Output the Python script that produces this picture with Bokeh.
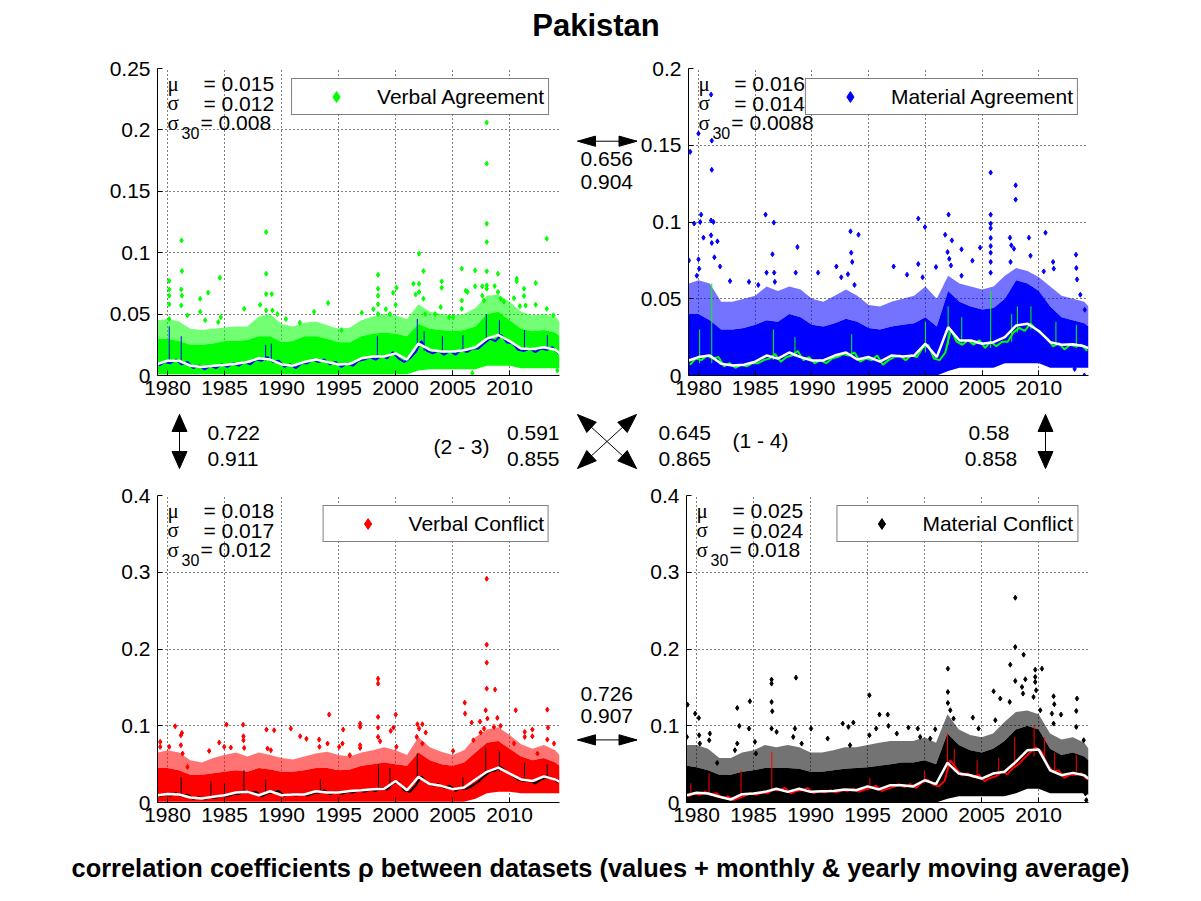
from bokeh.plotting import figure
from bokeh.layouts import column, row
from bokeh.models import Range1d, FixedTicker, CustomJSTickFormatter, Label, Legend, LegendItem
from bokeh.core.properties import value
from bokeh.embed import file_html
from bokeh.resources import INLINE

SANS = "Liberation Sans"
SERIF = "Liberation Serif"

# time axes (years)
years_y = [1979.15] + list(range(1980, 2015)) + [2014.37]
years_h = [1979.25 + 0.5 * i for i in range(71)]
year_ticks = [1980, 1985, 1990, 1995, 2000, 2005, 2010]

# ---------------- Verbal Agreement (top left) ----------------
va_yearly = [0.0095, 0.012, 0.012, 0.008, 0.007, 0.008, 0.0085, 0.0095, 0.011, 0.014,
             0.013, 0.009, 0.008, 0.011, 0.013, 0.011, 0.009, 0.0095, 0.014, 0.0155,
             0.0155, 0.018, 0.013, 0.026, 0.021, 0.0195, 0.0195, 0.0205, 0.023, 0.030,
             0.033, 0.028, 0.022, 0.0215, 0.023, 0.021, 0.018]
va_monthly = [0.008, 0.011, 0.010, 0.013, 0.009, 0.011, 0.006, 0.008, 0.005, 0.008,
              0.006, 0.009, 0.007, 0.010, 0.008, 0.011, 0.009, 0.013, 0.012, 0.015,
              0.011, 0.012, 0.007, 0.009, 0.006, 0.010, 0.010, 0.013, 0.011, 0.013,
              0.009, 0.011, 0.007, 0.010, 0.008, 0.012, 0.013, 0.015, 0.013, 0.016,
              0.014, 0.019, 0.014, 0.011, 0.014, 0.019, 0.028, 0.020, 0.018, 0.020,
              0.017, 0.020, 0.017, 0.021, 0.019, 0.022, 0.022, 0.026, 0.030, 0.028,
              0.033, 0.027, 0.026, 0.021, 0.020, 0.022, 0.019, 0.022, 0.021, 0.023,
              0.018]
va_band_lo = [0.001] * 23 + [0.004, 0.005, 0.005, 0.005, 0.005, 0.005, 0.008, 0.008,
                             0.008, 0.006, 0.006, 0.006, 0.006, 0.006]
va_band_hi = [0.030, 0.030, 0.028, 0.025, 0.025, 0.026, 0.028, 0.028, 0.029, 0.032,
              0.032, 0.027, 0.028, 0.032, 0.032, 0.030, 0.027, 0.027, 0.032, 0.034,
              0.035, 0.034, 0.032, 0.042, 0.038, 0.037, 0.036, 0.037, 0.040, 0.050,
              0.052, 0.045, 0.038, 0.036, 0.037, 0.035, 0.032]
va_fringe = [0.045, 0.046, 0.044, 0.038, 0.037, 0.038, 0.039, 0.040, 0.040, 0.048,
             0.050, 0.042, 0.040, 0.043, 0.044, 0.041, 0.038, 0.039, 0.045, 0.048,
             0.050, 0.049, 0.046, 0.058, 0.052, 0.050, 0.049, 0.050, 0.055, 0.065,
             0.066, 0.060, 0.052, 0.049, 0.050, 0.048, 0.044]
va_spikes = [(1980.15, 0.010, 0.040), (1981.2, 0.010, 0.032), (1988.6, 0.012, 0.025),
             (1989.1, 0.012, 0.026), (1998.4, 0.014, 0.032), (2001.9, 0.020, 0.046),
             (2002.5, 0.020, 0.036), (2004.1, 0.018, 0.032), (2005.9, 0.020, 0.033),
             (2007.95, 0.028, 0.050), (2009.1, 0.030, 0.045), (2011.3, 0.020, 0.037),
             (2013.3, 0.020, 0.033)]
va_points = [(1980.15, 0.077), (1980.15, 0.070), (1980.15, 0.065), (1980.15, 0.058), (1980.15, 0.046),
             (1981.23, 0.110), (1981.26, 0.085), (1981.2, 0.070), (1981.26, 0.065), (1981.2, 0.057),
             (1981.75, 0.049), (1982.86, 0.0625), (1982.86, 0.052), (1983.56, 0.0675), (1983.3, 0.045),
             (1984.59, 0.0796), (1984.67, 0.0475), (1984.45, 0.0435), (1986.72, 0.0543), (1988.12, 0.0576),
             (1988.65, 0.1168), (1988.65, 0.0829), (1988.65, 0.0663), (1989.14, 0.0663), (1988.65, 0.053),
             (1989.2, 0.053), (1989.64, 0.050), (1990.37, 0.046), (1991.6, 0.043), (1992.85, 0.052),
             (1994.08, 0.059), (1995.25, 0.037), (1997.03, 0.051), (1998.05, 0.054), (1998.46, 0.082),
             (1998.46, 0.0707), (1998.46, 0.065), (1998.46, 0.058), (1998.46, 0.050), (1999.14, 0.054),
             (1999.78, 0.0674), (2000.07, 0.0715), (2000.0, 0.0576), (1999.5, 0.050), (2001.56, 0.0747),
             (2002.06, 0.0992), (2002.06, 0.0747), (2002.06, 0.068), (2001.76, 0.066), (2002.44, 0.085),
             (2002.44, 0.0625), (2002.6, 0.050), (2003.46, 0.050), (2004.04, 0.0766), (2004.04, 0.0715),
             (2003.95, 0.0557), (2004.69, 0.0475), (2005.04, 0.0475), (2005.8, 0.087), (2005.8, 0.061),
             (2005.8, 0.0543), (2006.15, 0.069), (2006.3, 0.068), (2006.97, 0.0856), (2006.97, 0.0726),
             (2007.6, 0.0726), (2007.99, 0.206), (2007.99, 0.1726), (2007.99, 0.1236), (2007.99, 0.1087),
             (2007.99, 0.0848), (2007.99, 0.0734), (2007.99, 0.0707), (2007.6, 0.065), (2007.75, 0.061),
             (2008.98, 0.0829), (2008.68, 0.0728), (2008.98, 0.068), (2009.2, 0.0625), (2009.5, 0.060),
             (2010.38, 0.063), (2010.62, 0.0788), (2010.62, 0.0766), (2010.9, 0.0565), (2011.26, 0.0707),
             (2011.26, 0.0647), (2011.4, 0.057), (2012.28, 0.0576), (2012.28, 0.0753), (2013.25, 0.1114),
             (2013.25, 0.0543), (2013.83, 0.049), (2014.18, 0.004), (2006.73, 0.002)]
va_stats = ["0.015", "0.012", "0.008"]

# ---------------- Material Agreement (top right) ----------------
ma_yearly = [0.0098, 0.012, 0.013, 0.0076, 0.0065, 0.007, 0.009, 0.013, 0.011, 0.015,
             0.012, 0.0098, 0.0098, 0.013, 0.015, 0.0104, 0.012, 0.009, 0.013, 0.0124,
             0.013, 0.0207, 0.012, 0.0315, 0.0228, 0.0228, 0.0207, 0.0217, 0.025, 0.0326,
             0.0337, 0.029, 0.0217, 0.020, 0.0204, 0.019, 0.0178]
ma_monthly = [0.007, 0.011, 0.010, 0.013, 0.011, 0.012, 0.006, 0.008, 0.005, 0.007,
              0.006, 0.008, 0.008, 0.010, 0.011, 0.014, 0.009, 0.012, 0.013, 0.016,
              0.010, 0.012, 0.008, 0.010, 0.008, 0.011, 0.012, 0.014, 0.013, 0.015,
              0.009, 0.011, 0.010, 0.013, 0.007, 0.010, 0.012, 0.013, 0.010, 0.013,
              0.012, 0.018, 0.020, 0.011, 0.010, 0.015, 0.030, 0.022, 0.020, 0.023,
              0.020, 0.023, 0.018, 0.022, 0.019, 0.022, 0.022, 0.028, 0.031, 0.029,
              0.034, 0.030, 0.027, 0.024, 0.019, 0.021, 0.017, 0.020, 0.019, 0.020,
              0.016]
ma_band_lo = [0.0] * 23 + [0.003, 0.005, 0.005, 0.005, 0.005, 0.008, 0.008, 0.008,
                           0.008, 0.005, 0.005, 0.005, 0.005, 0.005]
ma_band_hi = [0.040, 0.040, 0.036, 0.030, 0.030, 0.031, 0.033, 0.036, 0.035, 0.040,
              0.038, 0.033, 0.032, 0.034, 0.037, 0.035, 0.031, 0.030, 0.032, 0.033,
              0.034, 0.038, 0.032, 0.055, 0.048, 0.045, 0.043, 0.044, 0.050, 0.062,
              0.060, 0.055, 0.045, 0.038, 0.036, 0.034, 0.032]
ma_fringe = [0.060, 0.062, 0.060, 0.048, 0.048, 0.050, 0.052, 0.058, 0.055, 0.058,
             0.056, 0.050, 0.048, 0.052, 0.056, 0.052, 0.046, 0.045, 0.048, 0.050,
             0.052, 0.058, 0.050, 0.065, 0.060, 0.058, 0.056, 0.058, 0.065, 0.070,
             0.068, 0.064, 0.058, 0.052, 0.050, 0.048, 0.045]
ma_spikes = [(1980.1, 0.008, 0.030), (1981.17, 0.008, 0.060), (1986.6, 0.010, 0.030),
             (1988.5, 0.012, 0.025), (1993.5, 0.012, 0.027), (2000.0, 0.015, 0.035),
             (2002.0, 0.020, 0.045), (2003.2, 0.020, 0.038), (2005.75, 0.018, 0.055),
             (2007.6, 0.022, 0.040), (2008.1, 0.028, 0.045), (2009.3, 0.030, 0.045),
             (2011.5, 0.020, 0.035), (2013.3, 0.018, 0.033)]
ma_points = [(1979.27, 0.1457), (1980.0, 0.1576), (1981.11, 0.183), (1981.17, 0.153), (1981.17, 0.134),
             (1981.11, 0.101), (1981.32, 0.100), (1980.23, 0.1048), (1980.15, 0.100), (1979.62, 0.099),
             (1980.44, 0.0898), (1981.11, 0.0913), (1981.17, 0.0863), (1981.67, 0.0874), (1981.4, 0.077),
             (1980.0, 0.0757), (1979.15, 0.075), (1980.06, 0.0696), (1979.85, 0.065), (1981.9, 0.071),
             (1985.91, 0.1048), (1986.64, 0.0996), (1986.52, 0.079), (1986.0, 0.067), (1986.67, 0.067),
             (1986.73, 0.061), (1988.72, 0.0837), (1988.57, 0.067), (1982.78, 0.0615), (1984.45, 0.061),
             (1985.27, 0.059), (1990.54, 0.067), (1992.15, 0.071), (1993.4, 0.0939), (1994.1, 0.0917),
             (1993.46, 0.080), (1993.55, 0.074), (1993.17, 0.066), (1992.58, 0.064), (1993.75, 0.059),
             (1997.2, 0.071), (1998.38, 0.0657), (1999.37, 0.0726), (1999.37, 0.1022), (1999.96, 0.0967),
             (1999.75, 0.064), (2000.93, 0.0707), (2001.74, 0.0917), (2002.04, 0.1048), (2002.33, 0.088),
             (2001.95, 0.0804), (2002.1, 0.076), (2002.25, 0.0717), (2003.18, 0.0822), (2003.18, 0.065),
             (2004.14, 0.0748), (2004.82, 0.0833), (2005.75, 0.1322), (2005.75, 0.1048), (2005.75, 0.099),
             (2005.75, 0.096), (2005.75, 0.0896), (2005.75, 0.0843), (2005.75, 0.080), (2005.75, 0.074),
             (2005.75, 0.067), (2007.45, 0.0898), (2007.57, 0.0848), (2007.95, 0.1239), (2007.95, 0.1146),
             (2007.8, 0.0826), (2007.5, 0.074), (2009.12, 0.0898), (2009.26, 0.078), (2010.58, 0.093),
             (2011.25, 0.074), (2011.31, 0.0696), (2010.43, 0.0678), (2013.27, 0.0787), (2013.3, 0.070),
             (2013.36, 0.0626), (2013.65, 0.0526), (2014.04, 0.0428), (2014.0, 0.0), (2013.15, 0.0043)]
ma_stats = ["0.016", "0.014", "0.0088"]

# ---------------- Verbal Conflict (bottom left) ----------------
vc_yearly = [0.0095, 0.011, 0.0104, 0.0065, 0.0052, 0.0074, 0.0095, 0.013, 0.0139, 0.0095,
             0.0147, 0.0095, 0.0104, 0.0104, 0.0147, 0.013, 0.013, 0.015, 0.016, 0.0174,
             0.018, 0.028, 0.016, 0.0334, 0.024, 0.0217, 0.0174, 0.0195, 0.030, 0.040,
             0.0455, 0.0377, 0.030, 0.028, 0.034, 0.030, 0.027]
vc_monthly = [0.008, 0.010, 0.009, 0.012, 0.008, 0.010, 0.005, 0.007, 0.004, 0.007,
              0.006, 0.009, 0.008, 0.011, 0.011, 0.015, 0.012, 0.014, 0.008, 0.012,
              0.013, 0.015, 0.008, 0.011, 0.009, 0.011, 0.009, 0.012, 0.013, 0.016,
              0.011, 0.014, 0.011, 0.014, 0.013, 0.016, 0.014, 0.017, 0.015, 0.019,
              0.017, 0.025, 0.027, 0.016, 0.014, 0.022, 0.034, 0.026, 0.022, 0.024,
              0.019, 0.022, 0.015, 0.019, 0.018, 0.022, 0.027, 0.034, 0.040, 0.042,
              0.046, 0.040, 0.035, 0.030, 0.028, 0.028, 0.025, 0.030, 0.033, 0.032,
              0.026]
vc_band_lo = [0.001] * 28 + [0.005, 0.012, 0.014, 0.014, 0.012, 0.012, 0.012, 0.012, 0.012]
vc_band_hi = [0.045, 0.045, 0.042, 0.036, 0.036, 0.038, 0.040, 0.042, 0.040, 0.045,
              0.043, 0.040, 0.040, 0.042, 0.045, 0.045, 0.042, 0.043, 0.048, 0.050,
              0.052, 0.050, 0.048, 0.065, 0.055, 0.050, 0.048, 0.052, 0.065, 0.078,
              0.080, 0.070, 0.060, 0.055, 0.058, 0.052, 0.048]
vc_fringe = [0.065, 0.068, 0.065, 0.055, 0.052, 0.058, 0.062, 0.065, 0.060, 0.065,
             0.062, 0.058, 0.056, 0.060, 0.064, 0.066, 0.062, 0.060, 0.065, 0.068,
             0.072, 0.068, 0.062, 0.085, 0.072, 0.066, 0.062, 0.068, 0.085, 0.095,
             0.098, 0.088, 0.076, 0.070, 0.075, 0.068, 0.062]
vc_spikes = [(1981.2, 0.010, 0.033), (1983.8, 0.006, 0.028), (1985.0, 0.009, 0.025),
             (1986.7, 0.012, 0.042), (1988.6, 0.010, 0.030), (1993.4, 0.014, 0.030),
             (1998.5, 0.016, 0.050), (1999.5, 0.018, 0.045), (2001.9, 0.025, 0.064),
             (2005.9, 0.017, 0.033), (2007.9, 0.035, 0.072), (2009.1, 0.040, 0.068),
             (2011.3, 0.028, 0.052), (2013.3, 0.030, 0.050)]
vc_points = [(1980.67, 0.0993), (1981.26, 0.0907), (1981.17, 0.0876), (1981.17, 0.0746), (1981.32, 0.0638),
             (1979.36, 0.079), (1979.36, 0.0725), (1980.15, 0.0725), (1981.75, 0.0464), (1983.65, 0.0672),
             (1984.53, 0.0781), (1985.17, 0.1015), (1984.97, 0.0725), (1985.55, 0.0716), (1986.63, 0.1015),
             (1986.66, 0.0863), (1986.66, 0.0811), (1986.72, 0.0711), (1988.68, 0.095), (1989.35, 0.0941),
             (1988.77, 0.0703), (1989.06, 0.068), (1990.81, 0.0963), (1991.63, 0.0863), (1992.18, 0.0829),
             (1993.29, 0.082), (1993.32, 0.0725), (1994.17, 0.1145), (1994.03, 0.0768), (1995.4, 0.095),
             (1995.34, 0.0768), (1995.05, 0.0725), (1995.98, 0.0616), (1996.89, 0.1028), (1996.89, 0.0985),
             (1996.89, 0.0746), (1996.89, 0.0711), (1998.46, 0.1614), (1998.46, 0.1549), (1998.46, 0.1115),
             (1998.46, 0.0976), (1998.46, 0.0855), (1998.64, 0.0798), (1999.81, 0.0976), (1999.57, 0.0933),
             (2000.01, 0.1145), (2000.07, 0.0725), (2001.91, 0.102), (2002.06, 0.0963), (2002.35, 0.102),
             (2001.85, 0.0855), (2002.64, 0.0911), (2002.35, 0.0768), (2005.04, 0.0672), (2006.06, 0.1301),
             (2006.09, 0.1158), (2006.67, 0.1041), (2006.82, 0.0811), (2007.4, 0.1054), (2007.46, 0.0911),
             (2007.99, 0.2915), (2007.99, 0.2056), (2007.99, 0.1822), (2007.99, 0.1484), (2008.72, 0.1471),
             (2007.9, 0.1202), (2008.05, 0.1093), (2007.75, 0.0963), (2008.92, 0.1102), (2009.2, 0.0998),
             (2008.62, 0.0985), (2010.53, 0.1202), (2010.38, 0.0768), (2011.32, 0.092), (2011.32, 0.0855),
             (2011.99, 0.095), (2011.99, 0.0863), (2013.3, 0.121), (2013.36, 0.0976), (2013.3, 0.082),
             (2013.89, 0.0768), (2012.44, 0.0638)]
vc_stats = ["0.018", "0.017", "0.012"]

# ---------------- Material Conflict (bottom right) ----------------
mc_yearly = [0.0095, 0.0126, 0.0117, 0.0074, 0.0039, 0.0108, 0.0117, 0.0139, 0.018, 0.0139,
             0.018, 0.0139, 0.0147, 0.015, 0.017, 0.016, 0.021, 0.017, 0.0226, 0.0226,
             0.021, 0.029, 0.0239, 0.0516, 0.0377, 0.0356, 0.0312, 0.0377, 0.040, 0.053,
             0.068, 0.069, 0.042, 0.0356, 0.0386, 0.0356, 0.031]
mc_monthly = [0.008, 0.012, 0.010, 0.014, 0.010, 0.012, 0.006, 0.008, 0.003, 0.006,
              0.009, 0.012, 0.010, 0.013, 0.012, 0.017, 0.016, 0.019, 0.012, 0.015,
              0.016, 0.019, 0.012, 0.015, 0.013, 0.016, 0.013, 0.016, 0.015, 0.018,
              0.014, 0.017, 0.019, 0.022, 0.015, 0.018, 0.020, 0.024, 0.020, 0.024,
              0.019, 0.026, 0.030, 0.023, 0.021, 0.028, 0.055, 0.045, 0.035, 0.038,
              0.033, 0.036, 0.028, 0.032, 0.034, 0.040, 0.037, 0.045, 0.050, 0.058,
              0.065, 0.072, 0.066, 0.050, 0.040, 0.042, 0.032, 0.036, 0.036, 0.038,
              0.030]
mc_band_lo = [0.0] * 23 + [0.005, 0.008, 0.008, 0.008, 0.008, 0.008, 0.012, 0.018,
                           0.018, 0.012, 0.012, 0.012, 0.012, 0.010]
mc_band_hi = [0.048, 0.046, 0.042, 0.036, 0.036, 0.040, 0.042, 0.045, 0.045, 0.045,
              0.044, 0.040, 0.040, 0.042, 0.044, 0.045, 0.046, 0.048, 0.050, 0.052,
              0.052, 0.055, 0.050, 0.090, 0.075, 0.068, 0.065, 0.070, 0.080, 0.095,
              0.100, 0.095, 0.070, 0.062, 0.065, 0.060, 0.055]
mc_fringe = [0.075, 0.075, 0.070, 0.058, 0.058, 0.065, 0.068, 0.075, 0.072, 0.075,
             0.072, 0.065, 0.065, 0.068, 0.072, 0.072, 0.075, 0.078, 0.080, 0.080,
             0.080, 0.085, 0.078, 0.115, 0.095, 0.088, 0.085, 0.090, 0.105, 0.118,
             0.120, 0.115, 0.090, 0.082, 0.085, 0.078, 0.070]
mc_spikes = [(1979.5, 0.008, 0.025), (1981.1, 0.010, 0.038), (1983.9, 0.005, 0.042),
             (1986.6, 0.014, 0.066), (1995.2, 0.018, 0.032), (2000.0, 0.025, 0.042),
             (2002.0, 0.040, 0.090), (2002.6, 0.040, 0.070), (2004.6, 0.033, 0.055),
             (2006.5, 0.035, 0.058), (2007.9, 0.045, 0.085), (2009.6, 0.060, 0.100),
             (2010.5, 0.055, 0.085), (2011.4, 0.040, 0.065), (2013.3, 0.035, 0.062)]
mc_points = [(1979.21, 0.1275), (1979.15, 0.0855), (1979.88, 0.1158), (1980.2, 0.1102), (1980.23, 0.0876),
             (1980.29, 0.0768), (1981.17, 0.0898), (1981.11, 0.0811), (1981.81, 0.0516), (1983.57, 0.1232),
             (1983.75, 0.0998), (1984.68, 0.1319), (1984.6, 0.0963), (1983.57, 0.0768), (1983.37, 0.0681),
             (1985.12, 0.079), (1985.21, 0.0638), (1986.58, 0.1601), (1986.58, 0.1549), (1986.58, 0.131),
             (1986.64, 0.1189), (1986.58, 0.0963), (1987.02, 0.092), (1988.72, 0.1627), (1988.63, 0.0963),
             (1988.48, 0.0855), (1989.22, 0.0768), (1990.04, 0.0963), (1991.5, 0.0833), (1992.82, 0.1028),
             (1993.32, 0.0985), (1993.75, 0.1041), (1993.46, 0.0746), (1995.16, 0.1397), (1995.16, 0.0876),
             (1995.75, 0.0963), (1996.04, 0.1145), (1996.77, 0.1145), (1996.83, 0.0998), (1997.56, 0.0898),
             (1998.58, 0.0976), (1999.4, 0.0963), (1999.61, 0.0855), (2000.49, 0.0833), (2000.93, 0.0954),
             (2002.04, 0.1744), (2002.04, 0.144), (2002.04, 0.1297), (2002.25, 0.1202), (2002.54, 0.1093),
             (2004.23, 0.1106), (2004.73, 0.0963), (2006.05, 0.1449), (2006.2, 0.1072), (2006.63, 0.1354),
             (2007.51, 0.1796), (2007.95, 0.2668), (2007.95, 0.2026), (2007.95, 0.1584), (2007.46, 0.131),
             (2008.68, 0.1926), (2008.83, 0.1605), (2008.54, 0.1505), (2008.63, 0.1419), (2009.7, 0.1731),
             (2009.7, 0.1636), (2009.7, 0.157), (2009.78, 0.1462), (2010.29, 0.1744), (2009.55, 0.1375),
             (2010.14, 0.1202), (2011.31, 0.1384), (2011.37, 0.128), (2011.16, 0.1158), (2011.96, 0.1145),
             (2011.31, 0.1028), (2013.36, 0.1354), (2013.3, 0.1193), (2013.3, 0.0985), (2013.95, 0.0811),
             (2014.18, 0.003), (2014.1, 0.0117)]
mc_stats = ["0.025", "0.024", "0.018"]

# correlation coefficients between the datasets
rho_12 = ["0.656", "0.904"]
rho_13 = ["0.722", "0.911"]
rho_23 = ["0.591", "0.855"]
rho_14 = ["0.645", "0.865"]
rho_24 = ["0.58", "0.858"]
rho_34 = ["0.726", "0.907"]

XLIM = (1979.12, 2014.37)
FW, FH = 402, 307          # plot frame size in px


def frame_label(p, ylim, dx, dy, text, size=21, font=SANS):
    # text centred vertically at dy px below the frame top, dx px right of its left edge
    x = XLIM[0] + dx / FW * (XLIM[1] - XLIM[0])
    y = ylim[1] - dy / FH * (ylim[1] - ylim[0])
    p.add_layout(Label(x=x, y=y, text=text, text_font=font, text_font_size=f"{size}px",
                       text_align="left", text_baseline="middle", text_color="black"))


def panel(name, ylim, size, borders, yticks, dot, mline, yearly, monthly, lo, hi,
          fringe, spikes, points, stats):
    p = figure(width=size[0], height=size[1], x_range=Range1d(*XLIM),
               y_range=Range1d(*ylim), output_backend="svg",
               toolbar_location=None, tools="",
               min_border_left=borders[0], min_border_right=borders[1],
               min_border_top=borders[2], min_border_bottom=borders[3])
    p.outline_line_color = None
    p.background_fill_color = "white"
    p.border_fill_color = "white"

    xt = FixedTicker(ticks=year_ticks)
    yt = FixedTicker(ticks=yticks)
    p.xaxis.ticker = xt
    p.yaxis.ticker = yt
    p.xgrid.ticker = xt
    p.ygrid.ticker = yt
    fmt = CustomJSTickFormatter(code="return String(Math.round(tick * 1000) / 1000);")
    p.xaxis.formatter = fmt
    p.yaxis.formatter = fmt
    p.axis.major_label_text_font = SANS
    p.axis.major_label_text_font_size = "21px"
    p.axis.major_label_text_color = "black"
    p.axis.axis_line_color = "black"
    p.axis.major_tick_line_color = "black"
    p.axis.major_tick_in = 5
    p.axis.major_tick_out = 0
    p.axis.minor_tick_line_color = None
    p.xaxis.major_label_standoff = 5
    p.yaxis.major_label_standoff = 7
    p.grid.grid_line_color = "black"
    p.grid.grid_line_dash = "1 3"
    p.grid.grid_line_width = 1

    p.varea(x=years_y, y1=hi, y2=fringe, fill_color=dot, fill_alpha=0.55)
    p.varea(x=years_y, y1=lo, y2=hi, fill_color=dot)
    r = p.scatter([q[0] for q in points], [q[1] for q in points],
                  marker="diamond", size=5, color=dot)
    p.line(years_h, monthly, color=mline, line_width=2)
    p.segment([s[0] for s in spikes], [s[1] for s in spikes],
              [s[0] for s in spikes], [s[2] for s in spikes], color=mline, line_width=1)
    p.line(years_y, yearly, color="white", line_width=2.5)

    frame_label(p, ylim, 10, 15, "\u03bc", font=SERIF)
    frame_label(p, ylim, 46, 15, "= " + stats[0])
    frame_label(p, ylim, 10, 34.5, "\u03c3", font=SERIF)
    frame_label(p, ylim, 46, 34.5, "= " + stats[1])
    frame_label(p, ylim, 10, 54, "\u03c3", font=SERIF)
    frame_label(p, ylim, 24, 64, "30", size=16)
    frame_label(p, ylim, 43, 54, "= " + stats[2])

    leg = Legend(items=[LegendItem(label=name, renderers=[r])], location="top_right",
                 margin=10, padding=4, spacing=0, glyph_width=80, glyph_height=27,
                 label_height=27, label_standoff=1, border_line_color="black",
                 border_line_width=1, background_fill_alpha=1,
                 label_text_font=SANS, label_text_font_size="21px",
                 label_text_color="black")
    p.add_layout(leg)
    return p


def strip(w, h, ox, oy):
    # blank canvas whose data coordinates are page pixels (y downwards)
    s = figure(width=w, height=h, x_range=Range1d(ox, ox + w), y_range=Range1d(oy + h, oy),
               x_axis_type=None, y_axis_type=None, output_backend="svg",
               toolbar_location=None, tools="", min_border=0)
    s.outline_line_color = None
    s.xgrid.visible = False
    s.ygrid.visible = False
    return s


def words(s, xs, ys, texts, align="left", size="21px", style="normal"):
    s.text(x=xs, y=ys, text=texts, text_font=value(SANS), text_font_size=value(size),
           text_font_style=style, text_align=align, text_baseline="middle", text_color="black")


def arrow2(s, x0, y0, x1, y1, head=17, half=6.5):
    # double-headed arrow with filled heads
    d = ((x1 - x0) ** 2 + (y1 - y0) ** 2) ** 0.5
    ux, uy = (x1 - x0) / d, (y1 - y0) / d
    nx, ny = -uy, ux
    s.segment([x0], [y0], [x1], [y1], line_color="black", line_width=1)
    xs, ys = [], []
    for (tx, ty, sgn) in ((x1, y1, 1), (x0, y0, -1)):
        bx, by = tx - sgn * head * ux, ty - sgn * head * uy
        xs.append([tx, bx + half * nx, bx - half * nx])
        ys.append([ty, by + half * ny, by - half * ny])
    s.patches(xs, ys, fill_color="black", line_color="black", line_width=1)


tl = panel("Verbal Agreement", (0, 0.25), (563, 361), (157, 4, 22, 32),
           [0, 0.05, 0.1, 0.15, 0.2, 0.25], "#00ff00", "#0000ff",
           va_yearly, va_monthly, va_band_lo, va_band_hi, va_fringe, va_spikes, va_points, va_stats)
tr = panel("Material Agreement", (0, 0.2), (563, 361), (49, 112, 22, 32),
           [0, 0.05, 0.1, 0.15, 0.2], "#0000ff", "#00ff00",
           ma_yearly, ma_monthly, ma_band_lo, ma_band_hi, ma_fringe, ma_spikes, ma_points, ma_stats)
bl = panel("Verbal Conflict", (0, 0.4), (563, 358), (157, 4, 15, 36),
           [0, 0.1, 0.2, 0.3, 0.4], "#ff0000", "#000000",
           vc_yearly, vc_monthly, vc_band_lo, vc_band_hi, vc_fringe, vc_spikes, vc_points, vc_stats)
br = panel("Material Conflict", (0, 0.4), (563, 358), (49, 112, 15, 36),
           [0, 0.1, 0.2, 0.3, 0.4], "#000000", "#ff0000",
           mc_yearly, mc_monthly, mc_band_lo, mc_band_hi, mc_fringe, mc_spikes, mc_points, mc_stats)

title = strip(1200, 46, 0, 0)
words(title, [595.5], [25], ["Pakistan"], align="center", size="31px", style="bold")

mid_top = strip(74, 361, 563, 46)
arrow2(mid_top, 577, 131.5, 636.5, 131.5, head=18, half=6)
words(mid_top, [580, 580], [152.5, 179], rho_12)

middle = strip(1200, 73, 0, 407)
arrow2(middle, 179, 414, 179, 468, head=17, half=7.5)
words(middle, [207, 207], [432, 458.5], rho_13)
words(middle, [433], [446], ["(2 - 3)"])
words(middle, [506.5, 506.5], [432, 458.5], rho_23)
arrow2(middle, 577, 414, 636, 468, head=19, half=7)
arrow2(middle, 577, 468, 636, 414, head=19, half=7)
words(middle, [658, 658], [432, 458.5], rho_14)
words(middle, [732], [439.5], ["(1 - 4)"])
words(middle, [988.5, 990.5], [432, 458.5], rho_24, align="center")
arrow2(middle, 1045, 414, 1045, 468, head=17, half=7.5)

mid_bot = strip(74, 358, 563, 480)
words(mid_bot, [580, 580], [712, 737.5], rho_34)
arrow2(mid_bot, 577, 765, 636.5, 765, head=18, half=6)

foot = strip(1200, 62, 0, 838)
words(foot, [600], [867],
      ["correlation coefficients \u03c1 between datasets (values + monthly & yearly moving average)"],
      align="center", size="25.4px", style="bold")

p = column(title, row(tl, mid_top, tr), middle, row(bl, mid_bot, br), foot)
open("out.html", "w").write(file_html(p, INLINE))
